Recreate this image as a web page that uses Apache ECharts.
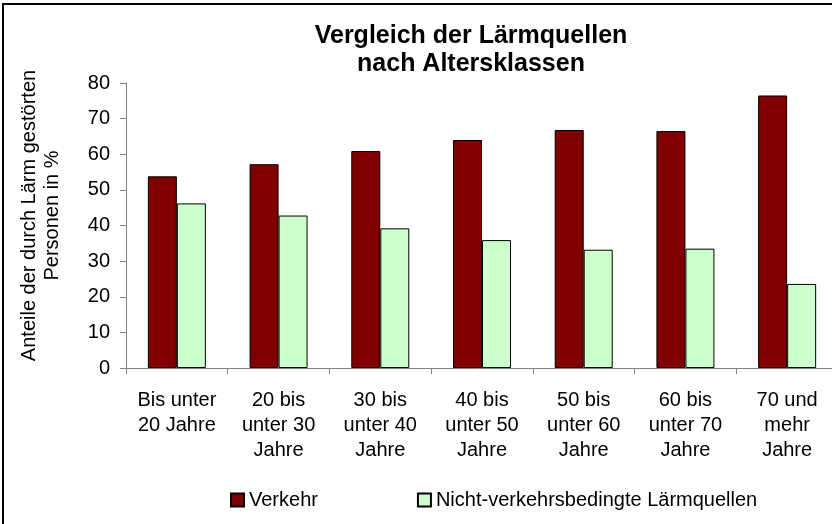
<!DOCTYPE html>
<html><head><meta charset="utf-8">
<script src="https://cdn.jsdelivr.net/npm/echarts@6/dist/echarts.min.js"></script>
<style>html,body{margin:0;padding:0;background:#fff}#c{width:832px;height:524px}</style>
</head><body><div id="c"></div>
<script>
const categories = ['Bis unter\n20 Jahre','20 bis\nunter 30\nJahre','30 bis\nunter 40\nJahre','40 bis\nunter 50\nJahre','50 bis\nunter 60\nJahre','60 bis\nunter 70\nJahre','70 und\nmehr\nJahre'];
const verkehr = [53.8, 57.2, 60.9, 64.0, 66.8, 66.5, 76.5];
const nichtVerkehr = [46.2, 42.8, 39.2, 35.9, 33.2, 33.5, 23.6];
const seriesNames = ['Verkehr', 'Nicht-verkehrsbedingte Lärmquellen'];
const titleText = 'Vergleich der Lärmquellen\nnach Altersklassen';
const yName = 'Anteile der durch Lärm gestörten\nPersonen in %';

const font = 'Arial, "Liberation Sans", sans-serif';
const chart = echarts.init(document.getElementById('c'), null, {renderer:'canvas'});
chart.setOption({
  animation: false,
  backgroundColor: '#fff',
  graphic: [{type:'rect', shape:{x:3, y:4, width:900, height:700}, style:{fill:'none', stroke:'#000', lineWidth:2}, z:-1}],
  title: {
    text: titleText, left: 466, top: 17, textAlign: 'center',
    textStyle: {fontFamily: font, fontSize: 25, fontWeight: 'bold', color: '#000', lineHeight: 28}
  },
  legend: {
    left: 230, top: 490, padding: 0, itemWidth: 13, itemHeight: 13, itemGap: 99, icon: 'rect',
    textStyle: {fontFamily: font, fontSize: 20, color: '#000'},
    data: seriesNames
  },
  grid: {left: 126, top: 83, width: 712, height: 285, containLabel: false, outerBoundsMode: 'none'},
  xAxis: {
    type: 'category', data: categories,
    axisLine: {lineStyle: {color: '#808080', width: 1}},
    axisTick: {show: true, length: 6, lineStyle: {color: '#808080'}},
    axisLabel: {fontFamily: font, fontSize: 20, color: '#000', lineHeight: 25, margin: 20, interval: 0}
  },
  yAxis: {
    type: 'value', min: 0, max: 80, interval: 10,
    name: yName, nameLocation: 'middle', nameRotate: 90, nameGap: 62,
    nameTextStyle: {fontFamily: font, fontSize: 20, color: '#000', lineHeight: 23, padding: [0,0,0,20]},
    axisLine: {show: true, lineStyle: {color: '#808080'}},
    axisTick: {show: true, length: 6, lineStyle: {color: '#808080'}},
    splitLine: {show: false},
    axisLabel: {fontFamily: font, fontSize: 20, color: '#000', margin: 16}
  },
  series: [
    {name: seriesNames[0], type: 'bar', data: verkehr, barWidth: 29, barGap: '0%',
     itemStyle: {color: '#800000', borderColor: '#000', borderWidth: 1}},
    {name: seriesNames[1], type: 'bar', data: nichtVerkehr, barWidth: 29,
     itemStyle: {color: '#CCFFCC', borderColor: '#000', borderWidth: 1}}
  ]
});
</script></body></html>
